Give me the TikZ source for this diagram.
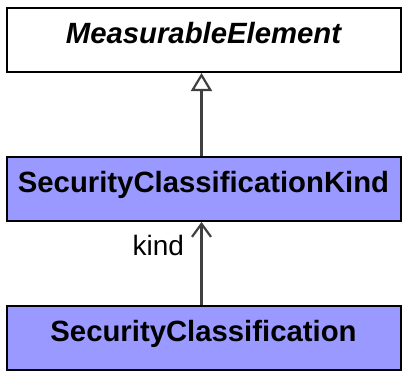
\documentclass[tikz,border=0pt]{standalone}
\usepackage{fontspec}
\setmainfont{Liberation Sans}
\usetikzlibrary{arrows.meta, positioning}
\definecolor{classblue}{RGB}{153, 153, 255}
\definecolor{linegray}{RGB}{64, 64, 64}

\begin{document}
\begin{tikzpicture}[
    x=1pt, y=-1pt,
    cls/.style={rectangle, draw=black, line width=2pt, minimum width=394pt, inner sep=0pt, text height=35pt, text depth=29pt, font=\fontsize{29.3}{34}\selectfont\bfseries},
    clsabs/.style={cls, fill=white, font=\fontsize{29.3}{34}\selectfont\bfseries\itshape},
    clsfill/.style={cls, fill=classblue},
    gen/.style={-{Triangle[length=18pt, width=21pt, fill=white]}, line width=2.2pt, linegray},
    assoc/.style={-{Straight Barb[length=13pt, width=19pt]}, line width=2.2pt, linegray},
]
\useasboundingbox (0,0) rectangle (404,372);

\node[clsabs, anchor=north] (elem) at (203.5,7) {MeasurableElement};

\node[clsfill, anchor=north] (kind) at (203.5,156) {SecurityClassificationKind};

\node[clsfill, anchor=north] (secclass) at (203.5,305) {SecurityClassification};

% generalisation
\draw[gen] ([xshift=-2pt]kind.north) -- ([xshift=-2pt]elem.south);

% association
\draw[assoc] ([xshift=-2pt]secclass.north) -- node[pos=0.6, anchor=base east, xshift=-13pt, font=\fontsize{28}{32}\selectfont, black] (kindlbl) {kind} ([xshift=-2pt]kind.south);

\end{tikzpicture}
\end{document}
